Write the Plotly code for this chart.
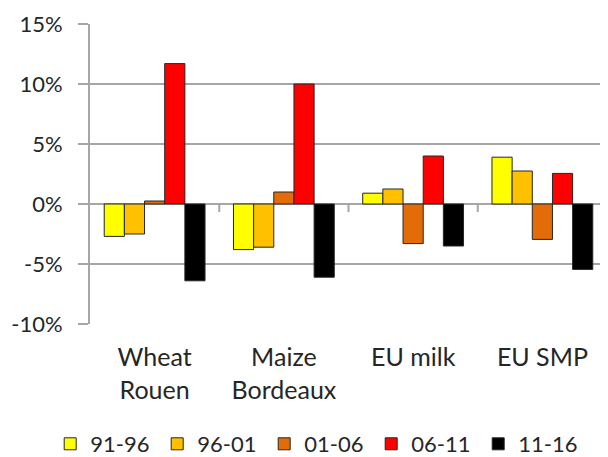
import plotly.graph_objects as go

categories = ["Wheat<br>Rouen", "Maize<br>Bordeaux", "EU milk", "EU SMP"]
periods = ["91-96", "96-01", "01-06", "06-11", "11-16"]
values = {
    "91-96": [-2.7, -3.8, 0.9, 3.9],
    "96-01": [-2.5, -3.6, 1.25, 2.75],
    "01-06": [0.25, 1.0, -3.3, -2.95],
    "06-11": [11.7, 10.0, 4.0, 2.55],
    "11-16": [-6.4, -6.1, -3.5, -5.45],
}
colors = ["#FFFF00", "#FFC000", "#E36C09", "#FF0000", "#000000"]
y_ticks = [-10, -5, 0, 5, 10, 15]
y_ticktext = ["-10%", "-5%", "0%", "5%", "10%", "15%"]

FONT = "Lato"
fig = go.Figure()
for p, c in zip(periods, colors):
    fig.add_trace(go.Bar(
        x=list(range(len(categories))), y=values[p], name=p,
        marker=dict(color=c, line=dict(color="#262626", width=1)),
    ))

grid = "#A6A6A6"
for i in range(len(categories)):
    fig.add_shape(type="line", xref="x", yref="y", x0=i + 0.5, x1=i + 0.5,
                  ysizemode="pixel", yanchor=0, y0=0, y1=-8,
                  line=dict(color=grid, width=2), layer="below")

fig.update_layout(
    width=600, height=449,
    margin=dict(l=82, r=1, t=16, b=133, autoexpand=False),
    plot_bgcolor="white", paper_bgcolor="white",
    barmode="group", bargap=0.22, bargroupgap=0,
    font=dict(family=FONT, size=22, color="#262626"),
    showlegend=True,
    legend=dict(orientation="h", x=-0.077, xanchor="left", y=-0.40, yanchor="middle",
                font=dict(size=22), entrywidth=62, entrywidthmode="pixels",
                itemwidth=30, tracegroupgap=0, bgcolor="rgba(0,0,0,0)"),
    xaxis=dict(tickmode="array", tickvals=list(range(len(categories))), ticktext=categories,
               tickfont=dict(size=25),
               range=[-0.5, len(categories) - 0.5], showgrid=False, zeroline=False,
               showline=False, ticks="", ticklabelstandoff=16),
    yaxis=dict(range=[-10, 15], tickvals=y_ticks, ticktext=y_ticktext,
               showgrid=True, gridcolor=grid, gridwidth=2,
               zeroline=True, zerolinecolor=grid, zerolinewidth=2,
               showline=True, linecolor=grid, linewidth=2,
               ticks="outside", ticklen=10, tickcolor=grid, tickwidth=2,
               ticklabelstandoff=11),
)
fig.write_html("out.html")
